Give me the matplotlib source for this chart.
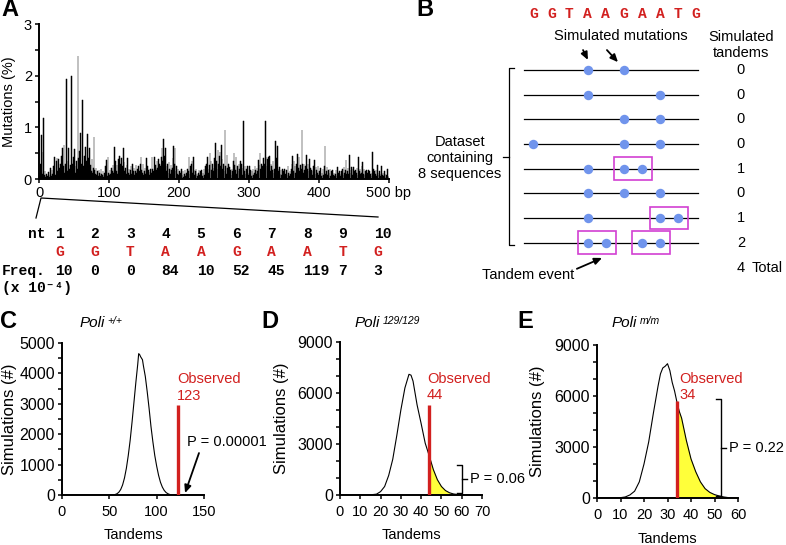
import matplotlib.pyplot as plt
import numpy as np
from matplotlib.patches import Rectangle
from matplotlib.ticker import MultipleLocator

plt.rcParams['font.family'] = ['Liberation Sans', 'DejaVu Sans']

W, H = 786, 545
RED = '#d2201f'
BLUE = '#7094ec'
MAGENTA = '#d23fd2'
YELLOW = '#ffff3a'
MONO = ['Liberation Mono', 'DejaVu Sans Mono']

# ---------------- data ----------------
# A: mutation frequency (%) per bp, 500 bp
mut_pct = [
    0.05, 0.12, 0.30, 0.85, 0.10, 0.52, 1.19, 0.08, 0.15, 0.04, 0.10, 0.02, 0.06, 0.14, 0.03, 0.08, 0.22, 0.05, 0.18, 0.10,
    0.25, 0.12, 0.42, 0.08, 0.35, 0.40, 0.15, 0.38, 0.10, 0.22, 0.30, 0.18, 0.45, 0.60, 0.25, 0.65, 0.12, 0.30, 0.20, 1.93,
    0.15, 0.35, 0.60, 0.20, 0.28, 0.10, 1.99, 0.30, 0.18, 0.42, 0.58, 0.25, 0.12, 0.35, 0.20, 2.38, 0.40, 0.55, 0.22, 0.90,
    0.30, 0.15, 1.53, 0.25, 0.45, 0.18, 0.62, 0.35, 0.10, 0.87, 0.40, 0.20, 0.60, 0.28, 0.15, 0.38, 0.12, 0.22, 0.81, 0.18,
    0.10, 0.22, 0.08, 0.15, 0.05, 0.18, 0.12, 0.06, 0.20, 0.10, 0.08, 0.15, 0.04, 0.12, 0.25, 0.10, 0.37, 0.05, 0.42, 0.12,
    0.08, 0.18, 0.10, 0.22, 0.15, 0.28, 0.12, 0.62, 0.20, 0.35, 0.15, 0.28, 0.10, 0.38, 0.45, 0.22, 0.30, 0.40, 0.18, 0.25,
    0.60, 0.32, 0.15, 0.22, 0.10, 0.28, 0.40, 0.12, 0.20, 0.08, 0.18, 0.25, 0.10, 0.30, 0.15, 0.22, 0.08, 0.16, 0.28, 0.12,
    0.20, 0.10, 0.25, 0.15, 0.30, 0.42, 0.18, 0.12, 0.30, 0.08, 0.15, 0.22, 0.10, 0.40, 0.25, 0.12, 0.18, 0.08, 0.14, 0.20,
    0.12, 0.42, 0.20, 0.15, 0.43, 0.10, 0.28, 0.18, 0.35, 0.22, 0.39, 0.15, 0.30, 0.25, 0.43, 0.60, 0.35, 0.77, 0.30, 0.45,
    0.60, 0.25, 0.15, 0.30, 0.12, 0.33, 0.20, 0.10, 0.28, 0.18, 0.22, 0.40, 0.63, 0.30, 0.60, 0.15, 0.25, 0.10, 0.20, 0.08,
    0.15, 0.05, 0.12, 0.20, 0.08, 0.15, 0.03, 0.10, 0.18, 0.06, 0.12, 0.08, 0.20, 0.15, 0.43, 0.10, 0.25, 0.30, 0.34, 0.12,
    0.43, 0.18, 0.08, 0.15, 0.20, 0.10, 0.05, 0.12, 0.17, 0.08, 0.15, 0.10, 0.17, 0.05, 0.12, 0.20, 0.08, 0.25, 0.15, 0.30,
    0.43, 0.20, 0.12, 0.28, 0.51, 0.35, 0.18, 0.30, 0.22, 0.15, 0.40, 0.28, 0.69, 0.35, 0.20, 0.56, 0.30, 0.45, 0.52, 0.25,
    0.65, 0.38, 0.20, 0.30, 0.15, 0.95, 0.25, 0.10, 0.46, 0.22, 0.30, 0.12, 0.23, 0.18, 0.08, 0.20, 0.15, 0.35, 0.50, 0.28,
    0.18, 0.43, 0.10, 0.25, 0.15, 0.30, 0.20, 0.34, 0.12, 0.30, 0.08, 0.22, 1.12, 0.15, 0.25, 0.10, 0.20, 0.25, 0.12, 0.08,
    0.25, 0.10, 0.18, 0.05, 0.15, 0.20, 0.08, 0.12, 0.25, 0.18, 0.10, 0.22, 0.15, 0.36, 0.28, 0.51, 0.20, 0.30, 0.15, 0.25,
    0.40, 0.18, 0.30, 1.12, 0.43, 0.25, 0.38, 0.43, 0.20, 0.45, 0.15, 0.30, 0.25, 0.18, 0.35, 0.12, 0.20, 0.74, 0.28, 0.40,
    0.63, 0.20, 0.15, 0.23, 0.10, 0.18, 0.08, 0.20, 0.12, 0.15, 0.20, 0.05, 0.10, 0.18, 0.08, 0.25, 0.12, 0.06, 0.15, 0.10,
    0.20, 0.30, 0.44, 0.15, 0.34, 0.25, 0.12, 0.30, 0.18, 0.49, 0.22, 0.43, 0.15, 0.28, 0.20, 0.95, 0.30, 0.12, 0.29, 0.18,
    0.25, 0.10, 0.46, 0.20, 0.30, 0.15, 0.39, 0.22, 0.12, 0.18, 0.08, 0.15, 0.25, 0.36, 0.10, 0.23, 0.18, 0.12, 0.25, 0.08,
    0.15, 0.10, 0.22, 0.05, 0.12, 0.20, 0.08, 0.25, 0.63, 0.10, 0.15, 0.23, 0.08, 0.18, 0.12, 0.20, 0.05, 0.15, 0.10, 0.18,
    0.08, 0.12, 0.05, 0.10, 0.18, 0.06, 0.23, 0.12, 0.08, 0.15, 0.05, 0.10, 0.15, 0.20, 0.08, 0.23, 0.12, 0.18, 0.36, 0.10,
    0.15, 0.22, 0.10, 0.46, 0.18, 0.12, 0.23, 0.08, 0.20, 0.23, 0.15, 0.10, 0.18, 0.12, 0.22, 0.08, 0.43, 0.15, 0.20, 0.10,
    0.12, 0.25, 0.33, 0.10, 0.20, 0.08, 0.15, 0.17, 0.05, 0.12, 0.18, 0.08, 0.15, 0.10, 0.05, 0.12, 0.52, 0.20, 0.08, 0.15,
    0.10, 0.18, 0.05, 0.28, 0.12, 0.08, 0.15, 0.05, 0.10, 0.25, 0.08, 0.12, 0.05, 0.15, 0.10, 0.04, 0.08, 0.20, 0.05, 0.02,
]
a_ticks = [0, 100, 200, 300, 400, 500]
a_ticklabels = ['0', '100', '200', '300', '400', '500 bp']

nt_number = ['1', '2', '3', '4', '5', '6', '7', '8', '9', '10']
nt_base = ['G', 'G', 'T', 'A', 'A', 'G', 'A', 'A', 'T', 'G']
nt_freq = [10, 0, 0, 84, 10, 52, 45, 119, 7, 3]

# B: simulated mutation sites (nucleotide index) per sequence
mut_sites = [[3, 5], [3, 7], [5, 7], [0, 5, 7], [3, 5, 6], [3, 5, 7], [3, 7, 8], [3, 4, 6, 7]]
tandem_pairs = [[], [], [], [], [(5, 6)], [], [(7, 8)], [(3, 4), (6, 7)]]
sim_tandems = [0, 0, 0, 0, 1, 0, 1, 2]

# C, D, E: simulation histograms
c_tandems = [0, 50, 54, 56, 58, 60, 62, 64, 66, 68, 70, 72, 74, 76, 78, 80, 81, 82, 83, 84, 85, 86,
             88, 90, 92, 94, 96, 98, 100, 102, 104, 106, 108, 110, 112, 114, 116, 118, 150]
c_sims = [0, 0, 5, 15, 40, 90, 180, 330, 560, 880, 1300, 1800, 2400, 3050, 3700, 4300, 4650, 4620, 4550, 4500, 4450, 4250,
          3900, 3400, 2850, 2250, 1750, 1300, 950, 650, 420, 260, 150, 80, 40, 15, 5, 0, 0]
c_observed, c_obs_height = 123, 2950

d_tandems = [0, 15, 18, 20, 22, 24, 26, 28, 30, 32, 34, 35, 36, 38, 40, 42, 44, 46, 48, 50, 52, 54, 56, 58, 60, 62, 66, 70]
d_sims = [0, 10, 50, 200, 500, 1150, 2100, 3500, 5000, 6300, 7100, 7050, 6700, 5300, 4200, 3050, 2300, 1500, 900, 500,
          260, 130, 60, 30, 15, 5, 0, 0]
d_observed, d_obs_height = 44, 5300

e_tandems = [0, 10, 12, 14, 16, 18, 20, 22, 24, 26, 27, 28, 29, 30, 31, 32, 33, 34, 35, 36, 38, 40, 42, 44, 46, 48,
             50, 52, 54, 56, 58, 60]
e_sims = [0, 20, 60, 180, 400, 950, 2000, 3300, 5000, 6600, 7300, 7650, 7750, 7900, 7500, 6800, 6300, 5650, 5100, 4700,
          3400, 2300, 1550, 950, 550, 330, 200, 120, 60, 20, 0, 0]
e_observed, e_obs_height = 34, 5720

# ---------------- figure ----------------
fig = plt.figure(figsize=(W / 100, H / 100), dpi=100)


def px_axes(l, t, r, b):
    ax = fig.add_axes([l / W, 1 - b / H, (r - l) / W, (b - t) / H])
    ax.patch.set_visible(False)
    return ax


ov = px_axes(0, 0, W, H)
ov.set_xlim(0, W)
ov.set_ylim(H, 0)
ov.axis('off')


def style(ax, ysize, xsize):
    ax.spines['top'].set_visible(False)
    ax.spines['right'].set_visible(False)
    for s in ['left', 'bottom']:
        ax.spines[s].set_linewidth(1.4)
    ax.tick_params(which='both', direction='out', length=3, width=1.1)
    ax.tick_params(axis='y', labelsize=ysize, pad=2)
    ax.tick_params(axis='x', labelsize=xsize, pad=4)


# panel letters
for letter, x, y in [('A', 1, 10), ('B', 416, 10), ('C', 0, 322), ('D', 261, 322), ('E', 517, 322)]:
    ov.text(x, y, letter, fontsize=17, fontweight='bold', ha='left', va='center')

# ---- A ----
axA = px_axes(39, 24, 389, 179)
axA.bar(np.arange(len(mut_pct)), mut_pct, width=1.0, align='edge', color='black',
        edgecolor='black', linewidth=0.35)
axA.set_xlim(0, 500)
axA.set_ylim(0, 3)
axA.set_xticks(a_ticks)
axA.set_xticklabels(a_ticklabels)
axA.yaxis.set_major_locator(MultipleLocator(1))
axA.yaxis.set_minor_locator(MultipleLocator(0.5))
style(axA, 10.5, 10.5)
axA.tick_params(axis='x', pad=2)
axA.set_ylabel('Mutations (%)', fontsize=10.5)
axA.yaxis.set_label_coords(-0.066, 0.5)

# zoom wedge onto the first 10 bp
ov.plot([36, 41, 378], [218, 198, 217], color='black', lw=0.9)

col_x = 55 + 35.4 * np.arange(len(nt_number))
ov.text(28, 234, 'nt', family=MONO, fontweight='bold', fontsize=10.5, va='center')
ov.text(2, 271, 'Freq.', family=MONO, fontweight='bold', fontsize=10.5, va='center')
ov.text(2, 288, '(x 10⁻⁴)', family=MONO, fontweight='bold', fontsize=10.5, va='center')
for x, n, b, f in zip(col_x, nt_number, nt_base, nt_freq):
    ov.text(x, 234, n, family=MONO, fontweight='bold', fontsize=10.5, va='center')
    ov.text(x, 252, b, family=MONO, fontweight='bold', fontsize=10.5, va='center', color=RED)
    ov.text(x, 271, str(f), family=MONO, fontweight='bold', fontsize=10.5, va='center')

# ---- B ----
axB = px_axes(400, 0, 786, 290)
axB.set_xlim(-7.36, 13.96)
axB.set_ylim(8.92, -2.84)
axB.axis('off')
for i, b in enumerate(nt_base):
    axB.text(i, -2.27, b, family=MONO, fontweight='bold', fontsize=10.5, color=RED, ha='center', va='center')
for r, sites in enumerate(mut_sites):
    axB.plot([-0.5, 9.1], [r, r], color='black', lw=0.9, zorder=1)
    axB.plot(sites, [r] * len(sites), 'o', ms=6.8, color=BLUE, mec='none', zorder=2)
    for a, b in tandem_pairs[r]:
        axB.add_patch(Rectangle((a - 0.55, r - 0.46), b - a + 1.1, 0.92, fill=False,
                                ec=MAGENTA, lw=1.2, zorder=3))
    axB.text(11.47, r, str(sim_tandems[r]), fontsize=10.5, ha='center', va='center')
axB.text(11.47, 8.02, str(sum(sim_tandems)), fontsize=10.5, ha='center', va='center')
axB.text(12.05, 8.02, 'Total', fontsize=10.5, ha='left', va='center')
axB.text(4.85, -1.38, 'Simulated mutations', fontsize=10.5, ha='center', va='center')
axB.text(11.47, -1.03, 'Simulated\ntandems', fontsize=10.5, ha='center', va='center')
axB.text(-4.05, 3.56, 'Dataset\ncontaining\n8 sequences', fontsize=10.5, ha='center', va='center')
axB.plot([-1.07, -1.35, -1.35, -1.07], [-0.07, -0.07, 7.09, 7.09], color='black', lw=0.9)
axB.plot([-1.35, -1.67], [3.52, 3.52], color='black', lw=0.9)
arrow = dict(arrowstyle='-|>,head_length=0.45,head_width=0.2', color='black', lw=1.3, shrinkA=0, shrinkB=0)
axB.annotate('', xy=(3.02, -0.41), xytext=(2.75, -0.81), arrowprops=arrow)
axB.annotate('', xy=(4.68, -0.32), xytext=(4.07, -0.81), arrowprops=arrow)
axB.text(-0.29, 8.3, 'Tandem event', fontsize=10.5, ha='center', va='center')
axB.annotate('', xy=(3.8, 7.62), xytext=(2.41, 8.06), arrowprops=arrow)


# ---- C, D, E ----
def hist_panel(box, tandems, sims, observed, obs_height, xmax, xstep, ymax, ymajor, yminor, fill):
    ax = px_axes(*box)
    t = np.array(tandems, dtype=float)
    s = np.array(sims, dtype=float)
    if fill:
        ax.fill_between(t, s, where=t >= observed, color=YELLOW, lw=0, zorder=1)
    ax.plot(t, s, color='black', lw=0.8, zorder=2)
    ax.vlines(observed, 0, obs_height, color=RED, lw=2.4, zorder=3)
    ax.set_xlim(0, xmax)
    ax.set_ylim(0, ymax)
    ax.xaxis.set_major_locator(MultipleLocator(xstep))
    ax.yaxis.set_major_locator(MultipleLocator(ymajor))
    ax.yaxis.set_minor_locator(MultipleLocator(yminor))
    style(ax, 11.5, 10.5)
    ax.set_ylabel('Simulations (#)', fontsize=12)
    ax.set_xlabel('Tandems', fontsize=10.5)
    return ax


def p_bracket(ax, x, y0, y1, hook, label):
    ax.plot([x - hook, x, x, x - hook], [y0, y0, y1, y1], color='black', lw=1.0, clip_on=False)
    ym = (y0 + y1) / 2
    ax.plot([x, x + hook], [ym, ym], color='black', lw=1.0, clip_on=False)
    ax.text(x + 1.55 * hook, ym, label, fontsize=10.5, ha='left', va='center')


axC = hist_panel((62, 343, 204, 495), c_tandems, c_sims, c_observed, c_obs_height, 150, 50, 5000, 1000, 500, False)
axC.yaxis.set_label_coords(-0.317, 0.5)
axC.xaxis.set_label_coords(0.5, -0.217)
axC.text(121.5, 3540, f'Observed\n{c_observed}', color=RED, fontsize=10.5, ha='left', va='center', linespacing=1.25)
axC.text(132, 1745, 'P = 0.00001', fontsize=10.5, ha='left', va='center')
axC.annotate('', xy=(130, 65), xytext=(144.7, 1380), arrowprops=arrow, annotation_clip=False)

axD = hist_panel((340, 342, 482, 495), d_tandems, d_sims, d_observed, d_obs_height, 70, 10, 9000, 3000, 1000, True)
axD.yaxis.set_label_coords(-0.36, 0.5)
axD.xaxis.set_label_coords(0.5, -0.216)
axD.text(42.9, 6350, f'Observed\n{d_observed}', color=RED, fontsize=10.5, ha='left', va='center', linespacing=1.25)
p_bracket(axD, 60.1, 100, 1765, 2.46, 'P = 0.06')

axE = hist_panel((597, 345, 738, 498), e_tandems, e_sims, e_observed, e_obs_height, 60, 10, 9000, 3000, 1000, True)
axE.yaxis.set_label_coords(-0.369, 0.5)
axE.xaxis.set_label_coords(0.5, -0.225)
axE.text(34.9, 6525, f'Observed\n{e_observed}', color=RED, fontsize=10.5, ha='left', va='center', linespacing=1.25)
p_bracket(axE, 52.8, 100, 5820, 2.13, 'P = 0.22')


# genotype titles
def title(x, y, sup):
    t = ov.text(x, y, 'Poli', style='italic', fontsize=11, ha='left', va='center')
    ov.annotate(sup, xy=(1, 1), xycoords=t, xytext=(1.5, 0), textcoords='offset points',
                fontsize=7.5, style='italic', ha='left', va='top')


title(80, 323, '+/+')
title(355, 323, '129/129')
title(612, 323, 'm/m')

plt.savefig('out.png', dpi=100)
